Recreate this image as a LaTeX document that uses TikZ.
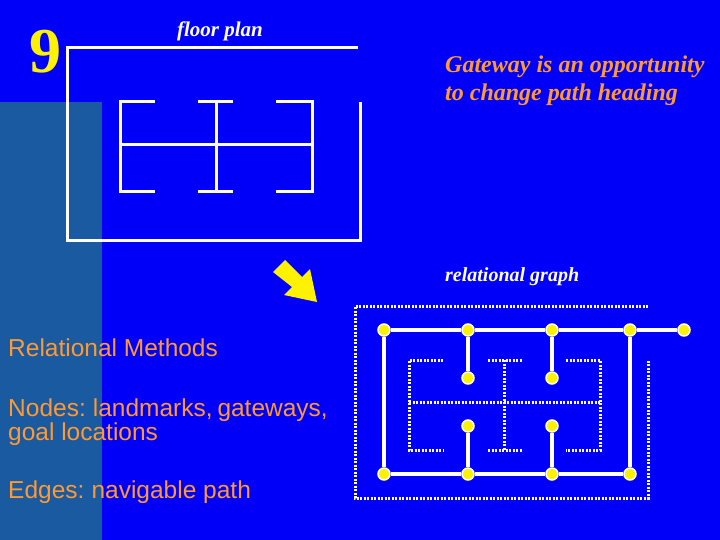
\documentclass[tikz,border=0pt]{standalone}
\usepackage{fontspec}
\setmainfont{Liberation Serif}
\setsansfont{Liberation Sans}
\begin{document}
\begin{tikzpicture}[x=1pt,y=-1pt,
  wall/.style={draw=white,line width=3pt},
  dwall/.style={draw=white,line width=3pt,dash pattern=on 2pt off 1.5pt},
  edge/.style={draw=white,line width=3.5pt},
  gnode/.style={circle,fill=yellow,draw=white,line width=1.5pt,minimum size=12pt,inner sep=0pt},
  otext/.style={text=orangeT,font=\sffamily\fontsize{24.5}{30}\selectfont,anchor=west,inner sep=0pt}]
\definecolor{bgblue}{RGB}{0,0,250}
\definecolor{tealB}{RGB}{25,90,160}
\definecolor{orangeT}{RGB}{255,153,51}
\fill[bgblue] (0,0) rectangle (720,540);
\useasboundingbox (0,0) rectangle (720,540);
\fill[tealB] (0,102) rectangle (102,540);
\node[text=yellow,font=\bfseries\fontsize{64}{64}\selectfont,inner sep=0pt] (nine) at (45,52) {9};
\node[text=white,font=\bfseries\itshape\fontsize{21}{24}\selectfont,inner sep=0pt] (fp) at (220,31) {floor plan};
% floor plan
\draw[wall] (358,48) -- (67,48) -- (67,240) -- (360,240) -- (360,102);
\draw[wall] (155,102) -- (120,102) -- (120,192) -- (155,192);
\draw[wall] (120,145) -- (312,145);
\draw[wall] (198,102) -- (233,102) (216,102) -- (216,192) (198,192) -- (233,192);
\draw[wall] (276,102) -- (312,102) -- (312,192) -- (276,192);
% arrow
\fill[yellow] (273,272) -- (285,260) -- (302,277) -- (310,269) -- (317,302) -- (284,295) -- (292,287) -- cycle;
\node[text=orangeT,font=\bfseries\itshape\fontsize{24}{28}\selectfont,anchor=north west,inner sep=0pt,align=left] (gw) at (445,56) {Gateway is an opportunity\\to change path heading};
\node[text=white,font=\bfseries\itshape\fontsize{20}{24}\selectfont,anchor=west,inner sep=0pt] (rg) at (445,277) {relational graph};
% relational graph walls
\draw[dwall] (648,306) -- (355,306) -- (355,498) -- (648,498) -- (648,361);
\draw[dwall] (443,360) -- (409,360) -- (409,450) -- (443,450);
\draw[dwall] (409,402) -- (600,402);
\draw[dwall] (488,360) -- (522,360) (504,360) -- (504,450) (488,450) -- (522,450);
\draw[dwall] (566,360) -- (600,360) -- (600,450) -- (566,450);
% nodes
\node[gnode] (a1) at (384,330) {};
\node[gnode] (a2) at (468,330) {};
\node[gnode] (a3) at (552,330) {};
\node[gnode] (a4) at (630,330) {};
\node[gnode] (a5) at (684,330) {};
\node[gnode] (b1) at (468,378) {};
\node[gnode] (b2) at (552,378) {};
\node[gnode] (c1) at (468,426) {};
\node[gnode] (c2) at (552,426) {};
\node[gnode] (d1) at (384,474) {};
\node[gnode] (d2) at (468,474) {};
\node[gnode] (d3) at (552,474) {};
\node[gnode] (d4) at (630,474) {};
\draw[edge] (a1) -- (a2) (a2) -- (a3) (a3) -- (a4) (a4) -- (a5)
  (a1) -- (d1) (d1) -- (d2) (d2) -- (d3) (d3) -- (d4) (a4) -- (d4)
  (a2) -- (b1) (a3) -- (b2) (c1) -- (d2) (c2) -- (d3);
% left text
\node[otext] (t1) at (8,348) {Relational Methods};
\node[otext] (t2) at (8,410) {Nodes:\hspace{-2pt} landmarks,\hspace{-2pt} gateways,};
\node[otext] (t3) at (8,434) {goal locations};
\node[otext] (t4) at (8,492) {Edges:\hspace{-2pt} navigable path};
\end{tikzpicture}
\end{document}
